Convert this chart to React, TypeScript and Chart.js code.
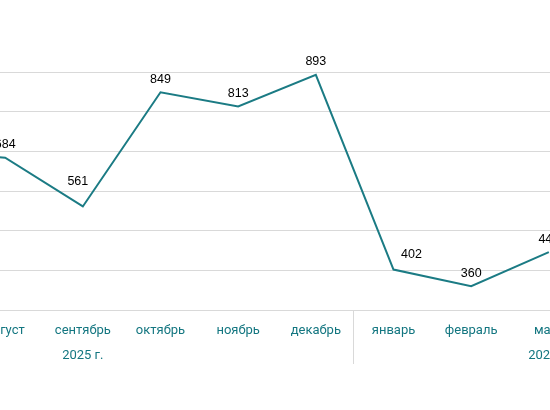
import React, { useEffect, useRef } from "react";
import { Chart, registerables } from "chart.js";

Chart.register(...registerables);

const months = ["июнь", "июль", "август", "сентябрь", "октябрь", "ноябрь", "декабрь", "январь", "февраль", "март", "апрель", "май"];
const values: (number | null)[] = [null, 700, 684, 561, 849, 813, 893, 402, 360, 446, null, null];
const groups = [
  { label: "2025 г.", from: 0, to: 6 },
  { label: "2026 г.", from: 7, to: 11 },
];
const yTicks = [300, 900];

const TEAL = "#1b7b84";
const LABEL_TEAL = "#137680";

const labelOffsets: Record<number, [number, number]> = {
  3: [-5, -12],
  7: [18, -2],
};

const overlayPlugin = {
  id: "overlay",
  afterDraw(chart: any) {
    const { ctx, chartArea, scales } = chart;
    const xs = scales.x;
    const ys = scales.y;
    ctx.save();
    ctx.font = "12.5px 'Liberation Sans', Arial, sans-serif";
    ctx.fillStyle = "#000";
    ctx.textAlign = "center";
    ctx.textBaseline = "middle";
    values.forEach((v, i) => {
      if (v == null) return;
      const off = labelOffsets[i] || [0, 0];
      const x = xs.getPixelForValue(i) + off[0];
      const y = ys.getPixelForValue(v) - 13 + off[1];
      ctx.fillText(String(v), x, y);
    });
    ctx.strokeStyle = "#d9d9d9";
    ctx.lineWidth = 1;
    for (let g = 0; g < groups.length - 1; g++) {
      const a = xs.getPixelForValue(groups[g].to);
      const b = xs.getPixelForValue(groups[g + 1].from);
      const sx = Math.round((a + b) / 2) - 1.5;
      ctx.beginPath();
      ctx.moveTo(sx, chartArea.bottom);
      ctx.lineTo(sx, chartArea.bottom + 54);
      ctx.stroke();
    }
    ctx.font = "13px Roboto, sans-serif";
    ctx.fillStyle = LABEL_TEAL;
    groups.forEach((g) => {
      const cx = (xs.getPixelForValue(g.from) + xs.getPixelForValue(g.to)) / 2;
      ctx.fillText(g.label, cx, chartArea.bottom + 46);
    });
    ctx.restore();
  },
};

export default function App() {
  const canvasRef = useRef<HTMLCanvasElement | null>(null);
  const holderRef = useRef<HTMLDivElement | null>(null);

  useEffect(() => {
    if (!canvasRef.current) return;
    const chart = new Chart(canvasRef.current, {
      type: "line",
      data: {
        labels: months,
        datasets: [
          {
            data: values,
            borderColor: TEAL,
            borderWidth: 2,
            pointRadius: 0,
            tension: 0,
            fill: false,
          },
        ],
      },
      options: {
        responsive: false,
        animation: false,
        plugins: { legend: { display: false }, tooltip: { enabled: false } },
        layout: { padding: { top: 72, left: 0, right: 0, bottom: 0 } },
        scales: {
          x: {
            offset: true,
            grid: { display: false },
            border: { display: true, color: "#d9d9d9", width: 1 },
            ticks: {
              color: LABEL_TEAL,
              font: { family: "Roboto, sans-serif", size: 13 },
              padding: 5,
              maxRotation: 0,
              autoSkip: false,
            },
            afterFit: (s: any) => {
              s.height = 100;
            },
          },
          y: {
            min: yTicks[0],
            max: yTicks[1],
            ticks: { display: false, stepSize: 100 },
            grid: { color: "#d9d9d9", drawTicks: false },
            border: { display: false },
            afterFit: (s: any) => {
              s.width = 0;
            },
          },
        },
      },
      plugins: [overlayPlugin],
    });
    if (holderRef.current) {
      const dx = 5.3 - chart.scales.x.getPixelForValue(2);
      holderRef.current.style.left = dx + "px";
    }
    return () => chart.destroy();
  }, []);

  return (
    <div style={{ position: "fixed", left: 0, top: 0, width: 550, height: 410, overflow: "hidden", background: "#fff" }}>
      <div ref={holderRef} style={{ position: "absolute", left: -189, top: 0 }}>
        <canvas ref={canvasRef} width={932} height={410} style={{ display: "block" }} />
      </div>
    </div>
  );
}
